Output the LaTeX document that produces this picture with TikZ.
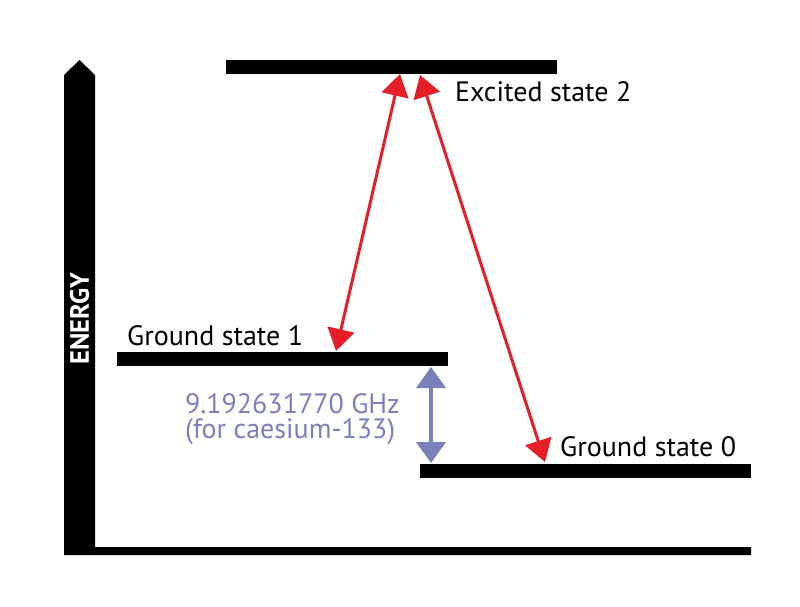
\documentclass[tikz,border=0pt]{standalone}
\usepackage{fontspec}
\setmainfont{PT Sans}
\usetikzlibrary{arrows.meta}
\definecolor{arrowred}{RGB}{230,30,40}
\definecolor{freqblue}{RGB}{122,128,186}
\begin{document}
\begin{tikzpicture}[x=1pt,y=-1pt,
  level/.style={fill=black,draw=none},
  redarrow/.style={draw=arrowred,line width=3pt,{Triangle[length=22pt,width=27pt,fill=arrowred]}-{Triangle[length=22pt,width=27pt,fill=arrowred]}},
  bluearrow/.style={draw=freqblue,line width=4pt,{Triangle[length=21pt,width=29pt,fill=freqblue]}-{Triangle[length=21pt,width=29pt,fill=freqblue]}},
  label/.style={font=\fontsize{28}{30}\selectfont,inner sep=0pt,anchor=base west}]
\useasboundingbox (0,0) rectangle (800,607);
% axis
\fill[black] (64,555) -- (64,75) -- (79.5,60) -- (95,75) -- (95,547) -- (751,547) -- (751,555) -- cycle;
\node[rotate=90,text=white,font=\bfseries\fontsize{26.5}{28}\selectfont,inner sep=0pt] (energy) at (79.5,318.5) {ENERGY};
% levels
\fill[level] (226,60) rectangle (557,74);
\fill[level] (117,352) rectangle (448,366);
\fill[level] (420,464) rectangle (751,478);
% labels
\node[label] (ex2) at (455,102) {Excited state 2};
\node[label] (gs1) at (127,345) {Ground state 1};
\node[label] (gs0) at (560,456) {Ground state 0};
\node[label,text=freqblue,align=left,font=\fontsize{28}{25}\selectfont] (freq) at (185,438) {9.192631770 GHz\\(for caesium-133)};
% arrows
\coordinate (a1top) at (400,74);
\coordinate (a1bot) at (336,351);
\coordinate (a2top) at (420,75);
\coordinate (a2bot) at (545,462);
\coordinate (btop) at (431,367);
\coordinate (bbot) at (431,463);
\draw[redarrow] (a1top) -- (a1bot);
\draw[redarrow] (a2top) -- (a2bot);
\draw[bluearrow] (btop) -- (bbot);
\end{tikzpicture}
\end{document}
